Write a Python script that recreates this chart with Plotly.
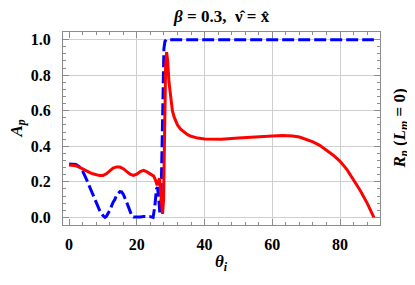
import plotly.graph_objects as go

# A_p (red, solid)
theta_a = [0, 1, 2, 3, 4, 5, 6, 7, 8, 9, 10, 11, 12, 13, 14, 15, 16, 17, 18, 19,
           20, 21, 22, 23, 24, 25, 25.5, 26.0, 26.4, 26.7, 27.0, 27.3, 27.6, 27.9,
           28.2, 28.5, 28.8, 29.1, 29.5, 30, 30.5, 31, 32, 33, 34, 35, 36, 38, 40,
           42, 45, 50, 55, 60, 63, 66, 68, 70, 72, 74, 76, 78, 80, 82, 84, 86, 88, 89, 90]
a_p = [0.295, 0.293, 0.29, 0.283, 0.272, 0.262, 0.253, 0.245, 0.238, 0.235, 0.236,
       0.245, 0.262, 0.277, 0.284, 0.283, 0.274, 0.258, 0.243, 0.236, 0.243, 0.258,
       0.264, 0.256, 0.243, 0.232, 0.21, 0.18, 0.205, 0.22, 0.15, 0.06, 0.02, 0.1,
       0.5, 0.85, 0.93, 0.88, 0.76, 0.66, 0.6, 0.565, 0.52, 0.495, 0.478, 0.465,
       0.456, 0.446, 0.441, 0.439, 0.44, 0.446, 0.453, 0.458, 0.46, 0.458, 0.452,
       0.44, 0.425, 0.405, 0.38, 0.35, 0.315, 0.27, 0.21, 0.15, 0.08, 0.04, 0.0]

# R_p (L_m = 0) (blue, dashed)
theta_r = [0, 1, 2, 3, 4, 5, 6, 7, 8, 9, 10, 10.6, 11, 12, 13, 13.5, 14, 15, 15.5,
           16, 17, 18, 18.5, 19, 20, 21, 22, 23, 24, 24.8, 25.3, 25.8, 26.1, 26.5,
           26.8, 27.1, 27.4, 27.7, 28.0, 28.3, 28.7, 30, 40, 50, 60, 70, 80, 90]
r_p = [0.30, 0.30, 0.298, 0.285, 0.26, 0.22, 0.175, 0.13, 0.085, 0.04, 0.01, 0.0,
       0.005, 0.04, 0.085, 0.1, 0.125, 0.145, 0.143, 0.13, 0.085, 0.03, 0.01, 0.002,
       0.0, 0.002, 0.005, 0.006, 0.004, 0.0, 0.06, 0.16, 0.17, 0.1, 0.02, 0.05, 0.4,
       0.8, 0.95, 0.99, 1.0, 1.0, 1.0, 1.0, 1.0, 1.0, 1.0, 1.0]

x_ticks = [0, 20, 40, 60, 80]
x_grid = [20, 40, 60, 80]
y_ticks = [0.0, 0.2, 0.4, 0.6, 0.8, 1.0]
y_ticklabels = ["0.0", "0.2", "0.4", "0.6", "0.8", "1.0"]

FONT = "Liberation Serif, Times New Roman, serif"
FRAME = "#8c8c8c"
GRID = "#cfcfcf"

fig = go.Figure()
fig.add_trace(go.Scatter(x=theta_r, y=r_p, mode="lines",
                         line=dict(color="#0000ff", width=3, dash="12px,4px"),
                         hoverinfo="skip", showlegend=False))
fig.add_trace(go.Scatter(x=theta_a, y=a_p, mode="lines",
                         line=dict(color="#ff0000", width=3),
                         hoverinfo="skip", showlegend=False))
# dummy trace to host the grid-only x axis
fig.add_trace(go.Scatter(x=[x_grid[0]], y=[None], xaxis="x2", mode="lines",
                         hoverinfo="skip", showlegend=False))

tickfont = dict(family=FONT, size=16, color="black", weight="bold")
labfont = dict(family=FONT, size=17, color="black", weight="bold")

# page body has an 8px default margin: compensate in the figure size / margins
fig.update_layout(
    width=407, height=277,
    margin=dict(l=55, r=35, t=24, b=60),
    paper_bgcolor="white", plot_bgcolor="white",
    xaxis=dict(range=[-1.8, 91.8], tickmode="array", tickvals=x_ticks,
               ticktext=[str(v) for v in x_ticks],
               showgrid=False, zeroline=False, showline=True, linecolor=FRAME,
               linewidth=1, mirror="ticks", ticks="inside", ticklen=6,
               tickcolor=FRAME, tickfont=tickfont, ticklabelstandoff=5,
               minor=dict(ticks="inside", tick0=0, dtick=4, ticklen=3,
                          tickcolor=FRAME, showgrid=False)),
    xaxis2=dict(matches="x", overlaying="x", anchor="y", tickmode="array",
                tickvals=x_grid, showgrid=True, gridcolor=GRID, gridwidth=1,
                showticklabels=False, ticks="", showline=False, zeroline=False,
                layer="below traces"),
    yaxis=dict(range=[-0.043, 1.043], tickmode="array", tickvals=y_ticks,
               ticktext=y_ticklabels, showgrid=True, gridcolor=GRID,
               zeroline=False, showline=True, linecolor=FRAME, linewidth=1,
               mirror="ticks", ticks="inside", ticklen=6, tickcolor=FRAME,
               tickfont=tickfont, ticklabelstandoff=8,
               minor=dict(ticks="inside", tick0=0, dtick=0.04, ticklen=3,
                          tickcolor=FRAME, showgrid=False)),
    annotations=[
        dict(text="<i>β</i> = 0.3,  ν̂ = x̂", xref="paper",
             yref="paper", x=0.5, y=1.0, yshift=16, xanchor="center",
             yanchor="middle", showarrow=False, font=labfont),
        dict(text="<i>θ<sub>i</sub></i>", xref="paper", yref="paper", x=0.5,
             y=0, yshift=-38, xanchor="center", yanchor="middle",
             showarrow=False, font=labfont),
        dict(text="<i>A<sub>p</sub></i>", xref="paper", yref="paper", x=0,
             xshift=-46, y=0.5, xanchor="center", yanchor="middle",
             textangle=-90, showarrow=False, font=labfont),
        dict(text="<i>R<sub>p</sub></i> (<i>L<sub>m</sub></i> = 0)", xref="paper",
             yref="paper", x=1, xshift=20, y=0.5, xanchor="center",
             yanchor="middle", textangle=-90, showarrow=False, font=labfont),
    ],
)

fig.write_html("out.html")
